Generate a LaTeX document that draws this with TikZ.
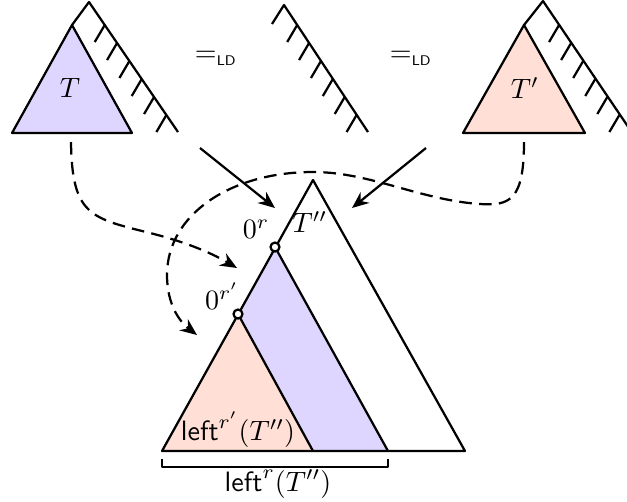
\documentclass[tikz,border=0pt]{standalone}
\usetikzlibrary{arrows.meta}
\definecolor{lav}{RGB}{222,214,255}
\definecolor{peach}{RGB}{255,223,214}
\begin{document}
\begin{tikzpicture}[x=0.357pt,y=-0.357pt,line width=0.8pt,line join=round,
  arr/.style={-{Stealth[length=6pt,width=5pt,inset=2pt]}},
  dsh/.style={dash pattern=on 4.5pt off 2.6pt},
  hole/.style={circle,draw,fill=white,inner sep=0pt,minimum size=3.2pt},
  lbl/.style={inner sep=0pt}]
\useasboundingbox (0,0) rectangle (627,501);
\clip (0,0) rectangle (627,501);
% ---- top left: T with hatched spine
\fill[lav] (12,133) -- (72,25) -- (132,133) -- cycle;
\draw (12,133) -- (72,25) -- (132,133) -- cycle;
\draw (72,25) -- (89,2) -- (178,132);
\foreach \y in {25,43,61,79,97,115}
  \draw ({89+0.685*(\y-2)},\y) -- ++(-10,17);
\node[lbl] (T) at (70,88) {$T$};
% ---- middle hatched spine
\draw (272,24) -- (284,5) -- (368,132);
\foreach \y in {25,43,61,79,97,115}
  \draw ({284+0.66*(\y-5)},\y) -- ++(-10,17);
% ---- top right: T' with hatched spine
\fill[peach] (463,133) -- (524,25) -- (585,133) -- cycle;
\draw (463,133) -- (524,25) -- (585,133) -- cycle;
\draw (524,25) -- (543,1) -- (633,134);
\foreach \y in {25,43,61,79,97,115}
  \draw ({543+0.67*(\y-1)},\y) -- ++(-10,17);
\node[lbl] (Tp) at (525,88) {$T'$};
% ---- equalities
\node[lbl] (eq1) at (216,58) {$=_{\scriptscriptstyle\mathsf{LD}}$};
\node[lbl] (eq2) at (411,58) {$=_{\scriptscriptstyle\mathsf{LD}}$};
% ---- bottom tree T''
\fill[lav] (275,247) -- (162,451) -- (388,451) -- cycle;
\fill[peach] (238,314) -- (162,451) -- (313,451) -- cycle;
\draw (313,180) -- (162,451) -- (465,451) -- cycle;
\draw (275,247) -- (388,451);
\draw (238,314) -- (313,451);
\node[hole] (r) at (275,247) {};
\node[hole] (rp) at (238,314) {};
\node[lbl] (Tpp) at (310,222) {$T''$};
\node[lbl] (zr) at (256,229) {$0^r$};
\node[lbl] (zrp) at (222,296) {$0^{r'}$};
\node[lbl] (leftrp) at (238,430) {$\mathsf{left}^{r'}(T'')$};
% bracket
\coordinate (bl) at (162,459);
\coordinate (br) at (388,459);
\draw[line width=0.5pt] (bl) -- ++(0,8) -| (br);
\node[lbl] (leftr) at (278,484) {$\mathsf{left}^{r}(T'')$};
% ---- arrows
\coordinate (a1s) at (200,148);
\coordinate (a1e) at (275,208);
\coordinate (a2s) at (426,148);
\coordinate (a2e) at (352,208);
\draw[arr] (a1s) -- (a1e);
\draw[arr] (a2s) -- (a2e);
\coordinate (d1s) at (71,142);
\coordinate (d1e) at (237,268);
\draw[arr,dsh] (d1s) .. controls (72,215) and (90,218) .. (150,233)
  .. controls (190,243) and (215,255) .. (d1e);
\coordinate (d2s) at (524,142);
\coordinate (d2e) at (197,335);
\draw[arr,dsh] (d2s) .. controls (524,200) and (510,206) .. (480,204)
  .. controls (420,200) and (370,172) .. (313,172)
  .. controls (230,172) and (167,215) .. (167,275)
  .. controls (167,305) and (180,322) .. (d2e);
\end{tikzpicture}
\end{document}
